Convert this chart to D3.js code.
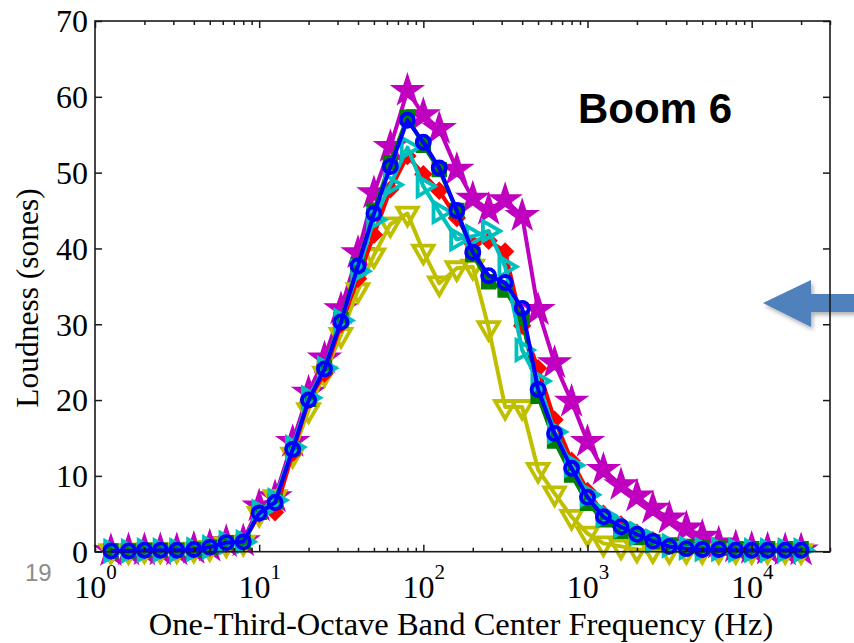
<!DOCTYPE html>
<html>
<head>
<meta charset="utf-8">
<script src="https://cdn.jsdelivr.net/npm/d3@7"></script>
<style>
  body { margin: 0; background: #fff; }
  svg { display: block; }
</style>
</head>
<body>
<div class="figure"></div>
<script>
// one-third-octave band centres (Hz)
const freqs = [1.25, 1.6, 2, 2.5, 3.15, 4, 5, 6.3, 8, 10, 12.5, 16, 20, 25, 31.5, 40, 50, 63, 80, 100,
  125, 160, 200, 250, 315, 400, 500, 630, 800, 1000, 1250, 1600, 2000, 2500, 3150, 4000, 5000, 6300,
  8000, 10000, 12500, 16000, 20000];

// loudness per band (sones)
const redValues = [0.1, 0.1, 0.2, 0.2, 0.2, 0.3, 0.5, 1.0, 1.2, 5.0, 5.2, 13.0, 20.0, 23.5, 30.0, 36.0, 41.8, 47.8, 52.2, 49.8,
  47.6, 44.0, 40.6, 41.0, 39.6, 29.8, 24.2, 17.4, 12.0, 8.0, 5.0, 3.6, 2.5, 1.5, 0.8, 0.5, 0.3, 0.3, 0.2, 0.2, 0.2, 0.2, 0.2];
const greenValues = [0.1, 0.1, 0.2, 0.2, 0.2, 0.3, 0.6, 1.2, 1.3, 5.2, 6.6, 13.6, 20.1, 24.3, 30.6, 37.8, 45.0, 51.3, 57.3, 53.6,
  50.4, 45.0, 39.2, 35.6, 34.5, 30.8, 20.5, 14.6, 10.1, 6.4, 4.2, 2.7, 1.9, 1.3, 0.9, 0.7, 0.5, 0.5, 0.4, 0.4, 0.4, 0.4, 0.4];
const cyanValues = [0.1, 0.1, 0.2, 0.2, 0.2, 0.3, 0.6, 1.2, 1.3, 5.3, 6.8, 13.8, 20.3, 24.2, 30.5, 37.0, 43.8, 48.4, 53.3, 48.2,
  44.8, 41.2, 41.6, 42.3, 37.6, 26.6, 22.5, 15.8, 11.4, 7.5, 4.8, 3.4, 2.4, 1.4, 0.8, 0.5, 0.3, 0.3, 0.2, 0.2, 0.2, 0.2, 0.2];
const yellowValues = [0.1, 0.1, 0.2, 0.2, 0.2, 0.3, 0.5, 1.0, 1.2, 5.0, 7.2, 12.8, 18.7, 23.5, 28.6, 34.5, 39.1, 43.2, 44.6, 39.6,
  35.4, 37.4, 37.6, 29.5, 19.1, 19.1, 10.8, 7.7, 4.6, 2.4, 1.1, 0.7, 0.3, 0.2, 0.1, 0.1, 0.1, 0.1, 0.1, 0.1, 0.1, 0.1, 0.1];
const magentaValues = [0.1, 0.2, 0.2, 0.2, 0.2, 0.4, 0.7, 1.3, 1.4, 6.0, 7.2, 14.5, 21.0, 25.5, 32.0, 39.4, 47.3, 53.4, 60.8, 57.6,
  55.8, 50.4, 46.6, 45.1, 46.4, 44.3, 31.9, 24.9, 19.8, 14.5, 10.8, 8.8, 7.3, 5.7, 4.4, 3.1, 2.0, 1.1, 0.6, 0.4, 0.3, 0.2, 0.2];
const blueValues = [0.1, 0.1, 0.2, 0.2, 0.2, 0.3, 0.6, 1.2, 1.3, 5.1, 6.5, 13.5, 20.0, 24.1, 30.3, 37.7, 44.6, 50.8, 56.9, 54.0,
  50.6, 45.0, 39.5, 36.4, 35.5, 32.1, 21.4, 15.6, 11.0, 7.2, 4.6, 3.3, 2.3, 1.4, 0.7, 0.4, 0.3, 0.3, 0.2, 0.2, 0.2, 0.2, 0.2];

// tick values
const yTicks = [0, 10, 20, 30, 40, 50, 60, 70];
const xDecades = [1, 10, 100, 1000, 10000];

const svg = d3.select('.figure')
  .append('svg')
  .attr('width', 854)
  .attr('height', 643);

// axes box in page pixels
const box = {left: 95, top: 21, right: 830, bottom: 551.7};

const x = d3.scaleLog()
  .domain([1, 30000])
  .range([box.left, box.right]);

const y = d3.scaleLinear()
  .domain([0, 70])
  .range([box.bottom, box.top]);

// minor log ticks 2..9 in each decade
const xMinor = [];
xDecades.forEach(dec => {
  for (let k = 2; k <= 9; k++) {
    if (dec * k <= 30000) xMinor.push(dec * k);
  }
});

// blue arrow sits behind the frame
const defs = svg.append('defs');
const shadow = defs.append('filter').attr('id', 'shadow')
  .attr('x', '-20%').attr('y', '-20%').attr('width', '140%').attr('height', '160%');
shadow.append('feDropShadow')
  .attr('dx', 2).attr('dy', 3)
  .attr('stdDeviation', 2)
  .attr('flood-color', '#000')
  .attr('flood-opacity', 0.3);

svg.append('path')
  .attr('d', 'M763,303 L811,280 L811,294 L856,294 L856,312 L811,312 L811,327 Z')
  .attr('fill', '#4f81bd')
  .attr('filter', 'url(#shadow)');

// series, bottom layer first
const series = [
  {name: 'magenta', values: magentaValues, color: '#bf00bf', symbol: d3.symbolStar, size: 175, rotate: 0, fill: true},
  {name: 'yellow', values: yellowValues, color: '#bfbf00', symbol: d3.symbolTriangle, size: 180, rotate: 180, fill: false},
  {name: 'red', values: redValues, color: '#ff0000', symbol: d3.symbolSquare, size: 85, rotate: 45, fill: true},
  {name: 'green', values: greenValues, color: '#008000', symbol: d3.symbolSquare, size: 135, rotate: 0, fill: true},
  {name: 'cyan', values: cyanValues, color: '#00bfbf', symbol: d3.symbolTriangle, size: 170, rotate: 90, fill: false},
  {name: 'blue', values: blueValues, color: '#0000ff', symbol: d3.symbolCircle, size: 135, rotate: 0, fill: false}
];

const line = d3.line()
  .x(d => x(d.f))
  .y(d => y(d.v));

const plot = svg.append('g');

series.forEach(s => {
  const pts = freqs.map((f, i) => ({f: f, v: s.values[i]}));
  const g = plot.append('g').attr('class', s.name);

  g.append('path')
    .datum(pts)
    .attr('d', line)
    .attr('fill', 'none')
    .attr('stroke', s.color)
    .attr('stroke-width', 4)
    .attr('stroke-linejoin', 'round');

  g.selectAll('path.mark')
    .data(pts)
    .enter().append('path')
      .attr('class', 'mark')
      .attr('d', d3.symbol().type(s.symbol).size(s.size))
      .attr('transform', d => `translate(${x(d.f)}, ${y(d.v)}) rotate(${s.rotate})`)
      .attr('fill', s.fill ? s.color : 'none')
      .attr('stroke', s.color)
      .attr('stroke-width', 3.8)
      .attr('stroke-linejoin', 'miter');
});

// axes: ticks inside, box on
const axisColor = '#1a1a1a';
const serif = '"Liberation Serif", "Times New Roman", serif';

const bottomMajor = svg.append('g')
  .attr('transform', `translate(0, ${box.bottom})`)
  .call(d3.axisBottom(x).tickValues(xDecades).tickSizeInner(-7).tickSizeOuter(0).tickFormat(() => ''));
const bottomMinor = svg.append('g')
  .attr('transform', `translate(0, ${box.bottom})`)
  .call(d3.axisBottom(x).tickValues(xMinor).tickSizeInner(-4).tickSizeOuter(0).tickFormat(() => ''));
const topMajor = svg.append('g')
  .attr('transform', `translate(0, ${box.top})`)
  .call(d3.axisTop(x).tickValues(xDecades).tickSizeInner(-7).tickSizeOuter(0).tickFormat(() => ''));
const topMinor = svg.append('g')
  .attr('transform', `translate(0, ${box.top})`)
  .call(d3.axisTop(x).tickValues(xMinor).tickSizeInner(-4).tickSizeOuter(0).tickFormat(() => ''));
const leftAxis = svg.append('g')
  .attr('transform', `translate(${box.left}, 0)`)
  .call(d3.axisLeft(y).tickValues(yTicks).tickSizeInner(-7).tickSizeOuter(0).tickPadding(7));
const rightAxis = svg.append('g')
  .attr('transform', `translate(${box.right}, 0)`)
  .call(d3.axisRight(y).tickValues(yTicks).tickSizeInner(-7).tickSizeOuter(0).tickFormat(() => ''));

[bottomMajor, bottomMinor, topMajor, topMinor, leftAxis, rightAxis].forEach(g => {
  g.select('.domain').remove();
  g.selectAll('line').attr('stroke', axisColor).attr('stroke-width', 1.5);
});

leftAxis.selectAll('text')
  .attr('font-family', serif)
  .attr('font-size', 32)
  .attr('fill', '#000')
  .attr('dy', '0.34em');

// decade labels as 10 with a superscript
bottomMajor.selectAll('.tick text').remove();
bottomMajor.selectAll('.tick').append('text')
  .attr('y', 46)
  .attr('text-anchor', 'middle')
  .attr('fill', '#000')
  .attr('font-family', serif)
  .attr('font-size', 32)
  .each(function(d) {
    const t = d3.select(this);
    t.append('tspan').text('10');
    t.append('tspan')
      .attr('font-size', 21)
      .attr('dy', -19)
      .text(Math.round(Math.log10(d)));
  });

// frame
svg.append('rect')
  .attr('x', box.left)
  .attr('y', box.top)
  .attr('width', box.right - box.left)
  .attr('height', box.bottom - box.top)
  .attr('fill', 'none')
  .attr('stroke', axisColor)
  .attr('stroke-width', 1.6);

// labels
svg.append('text')
  .attr('x', 461)
  .attr('y', 635)
  .attr('text-anchor', 'middle')
  .attr('font-family', serif)
  .attr('font-size', 32.5)
  .attr('fill', '#000')
  .text('One-Third-Octave Band Center Frequency (Hz)');

svg.append('text')
  .attr('transform', 'translate(38, 298) rotate(-90)')
  .attr('text-anchor', 'middle')
  .attr('font-family', serif)
  .attr('font-size', 31.5)
  .attr('fill', '#000')
  .text('Loudness (sones)');

svg.append('text')
  .attr('x', 578)
  .attr('y', 123)
  .attr('font-family', '"Liberation Sans", Arial, sans-serif')
  .attr('font-weight', 'bold')
  .attr('font-size', 42)
  .attr('fill', '#000')
  .text('Boom 6');

// slide number
svg.append('text')
  .attr('x', 25)
  .attr('y', 581)
  .attr('font-family', '"Liberation Sans", Arial, sans-serif')
  .attr('font-size', 24)
  .attr('fill', '#8c8c8c')
  .text('19');
</script>
</body>
</html>
